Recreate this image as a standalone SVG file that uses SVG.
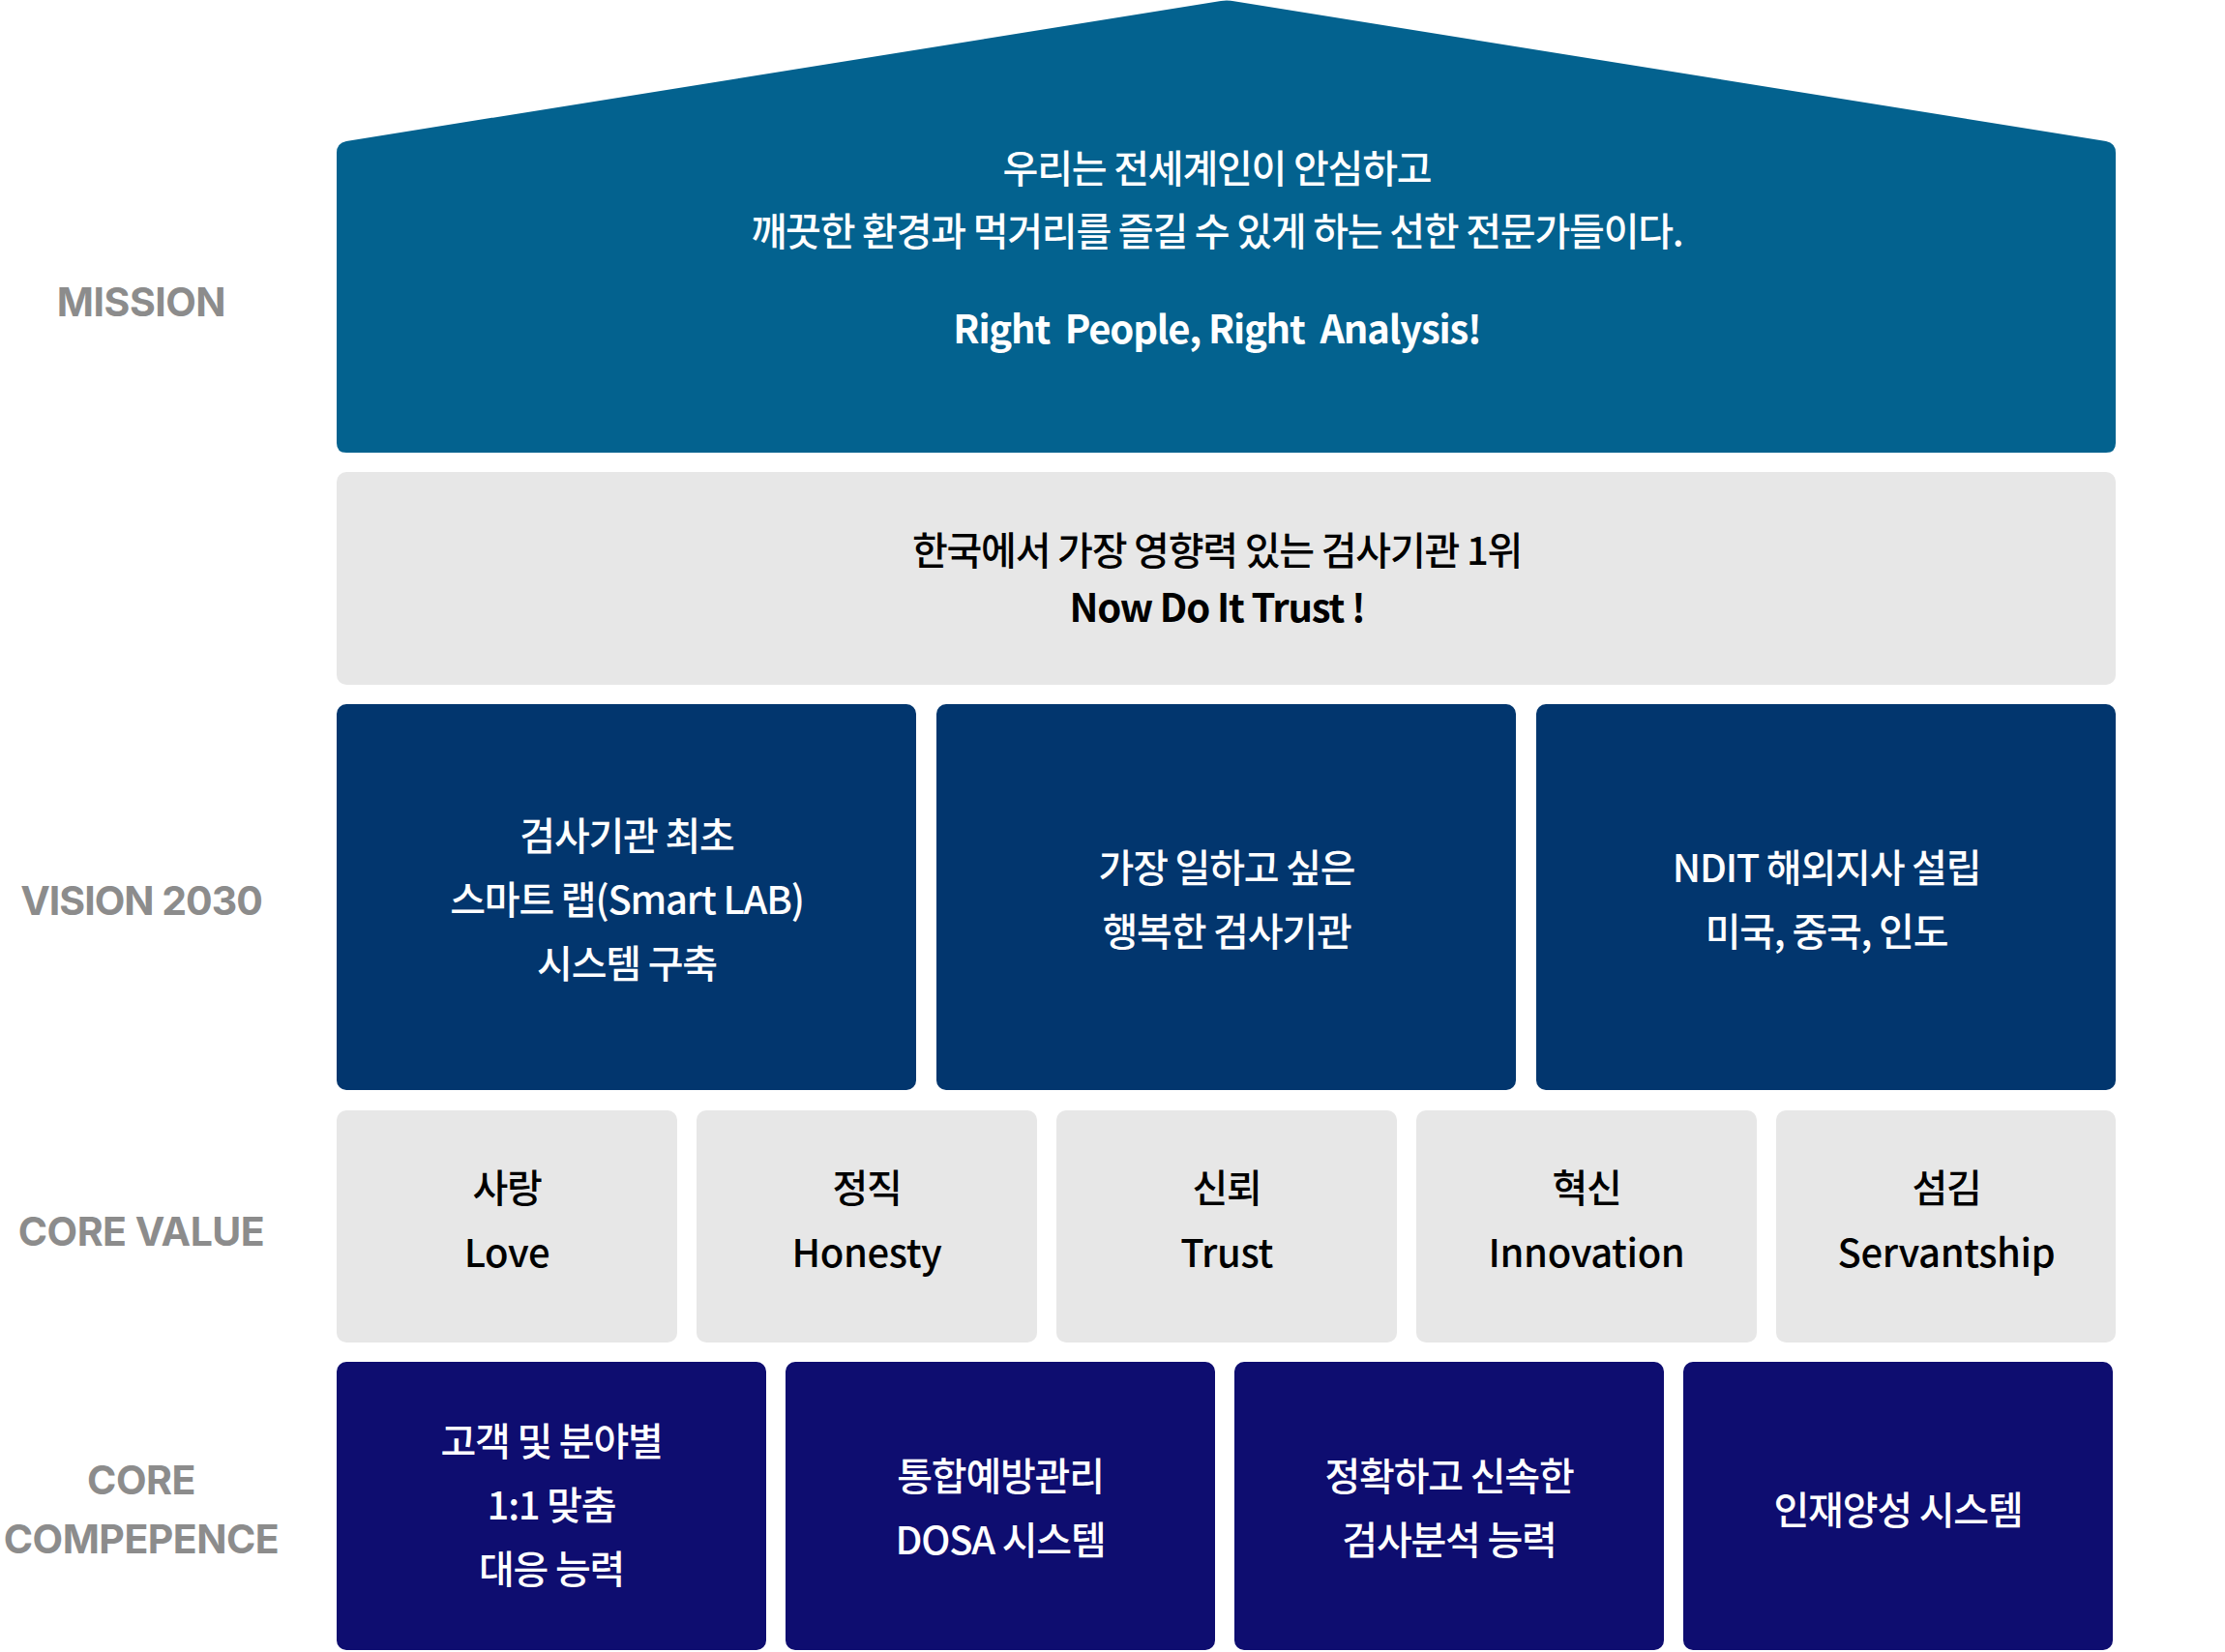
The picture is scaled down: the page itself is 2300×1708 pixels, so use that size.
<svg xmlns="http://www.w3.org/2000/svg" width="2300" height="1708" viewBox="0 0 2300 1708">
<style>
.lbl{font-family:Inter,"DejaVu Sans",sans-serif;font-weight:700;font-size:41px;fill:#8c8c8c;text-anchor:middle;letter-spacing:-0.5px}
.t{font-family:"Noto Sans CJK KR","Noto Sans",sans-serif;font-size:40px;font-weight:500;text-anchor:middle;letter-spacing:-1.2px}
.lat{letter-spacing:-0.4px}
.w{fill:#ffffff}
.k{fill:#000000}
.b{font-weight:700}
.vis{fill:#02366e}
.comp{fill:#0e0d70}
.gray{fill:#e7e7e7}
</style>
<rect width="2300" height="1708" fill="#ffffff"/>
<g id="labels">
<text class="lbl" x="146" y="327">MISSION</text>
<text class="lbl" x="146" y="946" style="letter-spacing:-1px">VISION 2030</text>
<text class="lbl" x="146" y="1288">CORE VALUE</text>
<text class="lbl" x="146" y="1545">CORE</text>
<text class="lbl" x="146" y="1606">COMPEPENCE</text>
</g>
<g id="mission">
<path d="M348,158 Q348,148 358,146 L1262,1 Q1268,0 1274,1 L2177,146 Q2187,148 2187,158 L2187,458 Q2187,468 2177,468 L358,468 Q348,468 348,458 Z" fill="#03628f"/>
<text class="t w" x="1258" y="189">우리는 전세계인이 안심하고</text>
<text class="t w" x="1258" y="254">깨끗한 환경과 먹거리를 즐길 수 있게 하는 선한 전문가들이다.</text>
<text class="t w b" x="1258" y="355" xml:space="preserve">Right  People, Right  Analysis!</text>
</g>
<g id="vision-main">
<rect class="gray" x="348" y="488" width="1839" height="220" rx="10"/>
<text class="t k" x="1258" y="584">한국에서 가장 영향력 있는 검사기관 1위</text>
<text class="t k b" x="1258" y="643">Now Do It Trust !</text>
</g>
<g id="vision-1">
<rect class="vis" x="348" y="728" width="599" height="399" rx="10"/>
<text class="t w" x="648" y="879">검사기관 최초</text>
<text class="t w" x="648" y="945">스마트 랩(Smart LAB)</text>
<text class="t w" x="648" y="1011">시스템 구축</text>
</g>
<g id="vision-2">
<rect class="vis" x="968" y="728" width="599" height="399" rx="10"/>
<text class="t w" x="1268" y="912">가장 일하고 싶은</text>
<text class="t w" x="1268" y="978">행복한 검사기관</text>
</g>
<g id="vision-3">
<rect class="vis" x="1588" y="728" width="599" height="399" rx="10"/>
<text class="t w" x="1888" y="912">NDIT 해외지사 설립</text>
<text class="t w" x="1888" y="978">미국, 중국, 인도</text>
</g>
<g id="value-1">
<rect class="gray" x="348" y="1148" width="352" height="240" rx="10"/>
<text class="t k" x="524" y="1243">사랑</text>
<text class="t k lat" x="524" y="1310">Love</text>
</g>
<g id="value-2">
<rect class="gray" x="720" y="1148" width="352" height="240" rx="10"/>
<text class="t k" x="896" y="1243">정직</text>
<text class="t k lat" x="896" y="1310">Honesty</text>
</g>
<g id="value-3">
<rect class="gray" x="1092" y="1148" width="352" height="240" rx="10"/>
<text class="t k" x="1268" y="1243">신뢰</text>
<text class="t k lat" x="1268" y="1310">Trust</text>
</g>
<g id="value-4">
<rect class="gray" x="1464" y="1148" width="352" height="240" rx="10"/>
<text class="t k" x="1640" y="1243">혁신</text>
<text class="t k lat" x="1640" y="1310">Innovation</text>
</g>
<g id="value-5">
<rect class="gray" x="1836" y="1148" width="351" height="240" rx="10"/>
<text class="t k" x="2012" y="1243">섬김</text>
<text class="t k lat" x="2012" y="1310">Servantship</text>
</g>
<g id="comp-1">
<rect class="comp" x="348" y="1408" width="444" height="298" rx="10"/>
<text class="t w" x="570" y="1505">고객 및 분야별</text>
<text class="t w" x="570" y="1571">1:1 맞춤</text>
<text class="t w" x="570" y="1637">대응 능력</text>
</g>
<g id="comp-2">
<rect class="comp" x="812" y="1408" width="444" height="298" rx="10"/>
<text class="t w" x="1034" y="1541">통합예방관리</text>
<text class="t w" x="1034" y="1607">DOSA 시스템</text>
</g>
<g id="comp-3">
<rect class="comp" x="1276" y="1408" width="444" height="298" rx="10"/>
<text class="t w" x="1498" y="1541">정확하고 신속한</text>
<text class="t w" x="1498" y="1607">검사분석 능력</text>
</g>
<g id="comp-4">
<rect class="comp" x="1740" y="1408" width="444" height="298" rx="10"/>
<text class="t w" x="1962" y="1576">인재양성 시스템</text>
</g>
<g id="connectors"></g>
</svg>
